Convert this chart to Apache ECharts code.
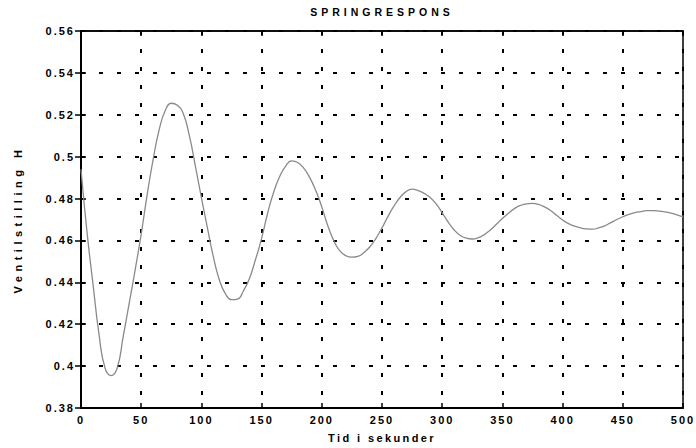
<!DOCTYPE html>
<html>
<head>
<meta charset="utf-8">
<script src="https://cdn.jsdelivr.net/npm/echarts@6/dist/echarts.min.js"></script>
<style>
  html, body { margin: 0; padding: 0; background: #fff; }
  #chart { width: 696px; height: 448px; }
  /* wide letter spacing like the old plotter output */
  #chart svg text { letter-spacing: 2px; }
</style>
</head>
<body>
<div id="chart"></div>
<script>
// tid (s) og ventilstilling H
var tid = [
  0, 5, 10, 15, 20, 25, 30, 35, 40, 45,
  50, 55, 60, 65, 70, 75, 80, 85, 90, 95,
  100, 105, 110, 115, 120, 125, 130, 135, 140, 145,
  150, 155, 160, 165, 170, 175, 180, 185, 190, 195,
  200, 205, 210, 215, 220, 225, 230, 235, 240, 245,
  250, 255, 260, 265, 270, 275, 280, 285, 290, 295,
  300, 305, 310, 315, 320, 325, 330, 335, 340, 345,
  350, 355, 360, 365, 370, 375, 380, 385, 390, 395,
  400, 405, 410, 415, 420, 425, 430, 435, 440, 445,
  450, 455, 460, 465, 470, 475, 480, 485, 490, 495, 500
]
var ventil = [
  0.494, 0.464, 0.439, 0.415, 0.399, 0.3955, 0.399, 0.414, 0.430, 0.446,
  0.463, 0.482, 0.499, 0.513, 0.522, 0.5255, 0.5245, 0.5205, 0.510, 0.4955,
  0.4805, 0.466, 0.452, 0.441, 0.4345, 0.4317, 0.432, 0.436, 0.442, 0.451,
  0.461, 0.473, 0.483, 0.4905, 0.4955, 0.498, 0.4972, 0.4945, 0.490, 0.4838,
  0.476, 0.467, 0.4598, 0.455, 0.4527, 0.452, 0.4524, 0.4542, 0.457, 0.461,
  0.466, 0.4715, 0.4765, 0.4805, 0.4833, 0.4845, 0.4838, 0.4825, 0.4805, 0.4775,
  0.4732, 0.4688, 0.465, 0.4624, 0.4611, 0.4607, 0.4613, 0.4628, 0.465, 0.4677,
  0.4705, 0.473, 0.4752, 0.4767, 0.4775, 0.4777, 0.4772, 0.476, 0.4743, 0.472,
  0.4698, 0.468, 0.4668, 0.466, 0.4655, 0.4654, 0.466, 0.467, 0.4685, 0.47,
  0.4713, 0.4725, 0.4733, 0.4738, 0.4742, 0.4742, 0.474, 0.4736, 0.473, 0.4722, 0.4713
]
var tittel = 'SPRINGRESPONS'
var xNavn = 'Tid i sekunder'
var yNavn = 'Ventilstilling H'

var font = 'Liberation Sans'
var black = '#000'

var myChart = echarts.init(document.getElementById('chart'), null, { renderer: 'svg' })

var gridDash = {
  show: true,
  lineStyle: { color: black, width: 2, type: [4, 14] }
}
var txt = { fontFamily: font, fontSize: 11, fontWeight: 'bold', color: black }

var option = {
  animation: false,
  backgroundColor: '#fff',
  grid: {
    left: 81,
    right: 13,
    top: 31,
    bottom: 40,
    show: true,
    borderColor: black,
    borderWidth: 1.5
  },
  xAxis: [
    {
      type: 'value',
      min: 0,
      max: 500,
      interval: 50,
      position: 'bottom',
      name: xNavn,
      nameLocation: 'middle',
      nameGap: 24,
      nameTextStyle: txt,
      axisLine: { lineStyle: { color: black, width: 2 } },
      axisTick: { inside: true, length: 5, lineStyle: { color: black, width: 1.5 } },
      axisLabel: Object.assign({ margin: 6 }, txt),
      splitLine: gridDash
    },
    {
      type: 'value',
      min: 0,
      max: 500,
      interval: 50,
      position: 'top',
      name: tittel,
      nameLocation: 'middle',
      nameGap: 14,
      nameTextStyle: Object.assign({}, txt, { fontSize: 10.5 }),
      axisLine: { lineStyle: { color: black, width: 1.5 } },
      axisTick: { inside: true, length: 5, lineStyle: { color: black, width: 1.5 } },
      axisLabel: { show: false },
      splitLine: { show: false }
    }
  ],
  yAxis: [
    {
      type: 'value',
      min: 0.38,
      max: 0.56,
      interval: 0.02,
      position: 'left',
      name: yNavn,
      nameLocation: 'middle',
      nameGap: 58,
      nameTextStyle: txt,
      axisLine: { lineStyle: { color: black, width: 2 } },
      axisTick: { inside: true, length: 5, lineStyle: { color: black, width: 1.5 } },
      axisLabel: Object.assign({
        margin: 6,
        formatter: function (v) { return String(+v.toFixed(2)) }
      }, txt),
      splitLine: gridDash
    },
    {
      type: 'value',
      min: 0.38,
      max: 0.56,
      interval: 0.02,
      position: 'right',
      axisLine: { lineStyle: { color: black, width: 1.5 } },
      axisTick: { inside: true, length: 6, lineStyle: { color: black, width: 1.5 } },
      axisLabel: { show: false },
      splitLine: { show: false }
    }
  ],
  series: [
    {
      type: 'line',
      data: tid.map(function (t, i) { return [t, ventil[i]] }),
      smooth: true,
      showSymbol: false,
      lineStyle: { color: '#8a8a8a', width: 1.3 }
    }
  ]
}

myChart.setOption(option)

// egen sperring for tittel og aksenavn
function spacing() {
  document.querySelectorAll('#chart svg text').forEach(function (el) {
    var s = el.textContent
    if (s === tittel) el.style.letterSpacing = '4px'
    else if (s === yNavn) el.style.letterSpacing = '4.5px'
    else if (s === xNavn) el.style.letterSpacing = '2.4px'
  })
}
spacing()
myChart.on('finished', spacing)
</script>
</body>
</html>
